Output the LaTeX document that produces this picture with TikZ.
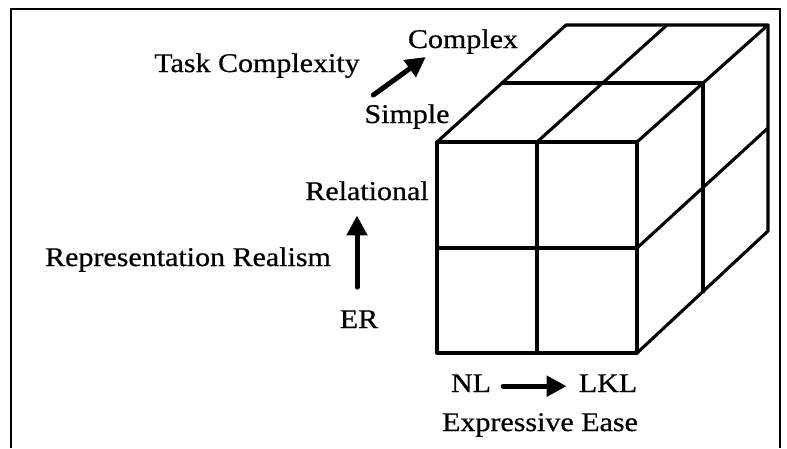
\documentclass[tikz,border=0pt]{standalone}
\usepackage{fontspec}
\setmainfont{Liberation Serif}
\newfontfamily\lblfont{Liberation Serif}[FakeBold=0.6]
\usetikzlibrary{arrows.meta}
\newcommand{\sqz}[1]{\scalebox{1}[0.9]{#1}}
\begin{document}
\begin{tikzpicture}[x=1pt,y=-1pt,
  lbl/.style={inner sep=0pt, anchor=base, font=\lblfont\fontsize{30}{36}\selectfont},
  cubeline/.style={line width=3.1pt, line join=round, line cap=round},
  bigarrow/.style={line width=5pt, line cap=round, -{Triangle[length=20pt,width=20pt]}},
  frameline/.style={line width=2pt}]
\useasboundingbox (0,0) rectangle (787,448);
% frame
\draw[frameline] (11,448) -- (11,9) -- (780,9) -- (780,448);
% cube: front face
\draw[cubeline] (437,142) rectangle (637,353);
\draw[cubeline] (537,142) -- (537,353);
\draw[cubeline] (437,248) -- (637,248);
% top face
\draw[cubeline] (437,142) -- (566,25) -- (768,25) -- (637,142);
\draw[cubeline] (537,142) -- (667,25);
\draw[cubeline] (502,83) -- (703,83);
% right face
\draw[cubeline] (768,25) -- (768,231) -- (637,353);
\draw[cubeline] (703,83) -- (703,292);
\draw[cubeline] (637,248) -- (768,128);
% labels
\node[lbl] (task) at (257,72) {\sqz{Task Complexity}};
\node[lbl] (complex) at (463,48) {\sqz{Complex}};
\node[lbl] (simple) at (407,123) {\sqz{Simple}};
\node[lbl] (rel) at (367,200) {\sqz{Relational}};
\node[lbl] (realism) at (188,266) {\sqz{Representation Realism}};
\node[lbl] (er) at (359,328) {\sqz{ER}};
\node[lbl] (nl) at (471,392) {\sqz{NL}};
\node[lbl] (lkl) at (608,392) {\sqz{LKL}};
\node[lbl] (ease) at (540,431) {\sqz{Expressive Ease}};
% arrows
\draw[bigarrow] ([shift={(9,-9)}]simple.north west) -- ([shift={(18,3)}]complex.south west);
\draw[bigarrow] ([shift={(-2,-23)}]er.north) -- ([shift={(-10,15)}]rel.south);
\draw[bigarrow] ([shift={(12,3)}]nl.east) -- ([shift={(-12,3)}]lkl.west);
\end{tikzpicture}
\end{document}
